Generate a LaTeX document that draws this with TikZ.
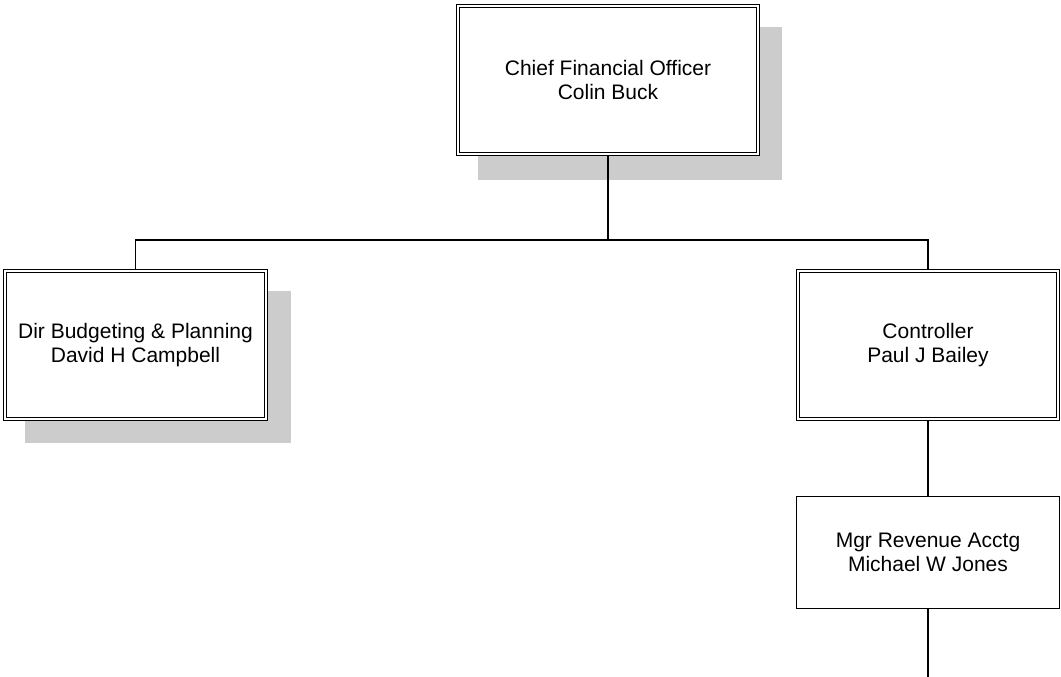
\documentclass[tikz,border=0pt]{standalone}
\usepackage{fontspec}
\setmainfont{Liberation Sans}
\definecolor{shadowc}{RGB}{204,204,204}
\tikzset{
  dbox/.style={draw=black, line width=0.8pt, double=white, double distance=2.4pt,
    fill=white, inner sep=0pt, outer sep=0pt, align=center,
    font=\fontsize{21}{24}\selectfont},
  sbox/.style={draw=black, line width=1.2pt, fill=white, inner sep=0pt, outer sep=0pt,
    align=center, font=\fontsize{21}{24}\selectfont},
  conn/.style={draw=black, line width=1.3pt},
  shade/.style={fill=shadowc}
}
\begin{document}
\begin{tikzpicture}[x=1pt,y=-1pt]
\useasboundingbox (0,0) rectangle (1061,677);
% shadows
\fill[shade] (478,27) rectangle (782,180);
\fill[shade] (25,291) rectangle (291,443);
% boxes
\node[dbox, minimum width=300pt, minimum height=148pt] (cfo) at (608,80)
  {Chief Financial Officer\\Colin Buck};
\node[dbox, minimum width=261pt, minimum height=148pt] (dir) at (135.5,345)
  {Dir Budgeting \& Planning\\David H Campbell};
\node[dbox, minimum width=260pt, minimum height=148pt] (ctl) at (928,345)
  {Controller\\Paul J Bailey};
\node[sbox, minimum width=263pt, minimum height=112pt] (mgr) at (928,552.5)
  {Mgr Revenue Acctg\\Michael W Jones};
% connectors
\coordinate (hub) at (608,240);
\coordinate (endp) at (928,677);
\draw[conn] ([yshift=-2pt]cfo.south) -- (hub);
\draw[conn] ([yshift=2pt]dir.north) |- (hub);
\draw[conn] ([yshift=2pt]ctl.north) |- (hub);
\draw[conn] ([yshift=-2pt]ctl.south) -- (mgr.north);
\draw[conn] (mgr.south) -- (endp);
\end{tikzpicture}
\end{document}
